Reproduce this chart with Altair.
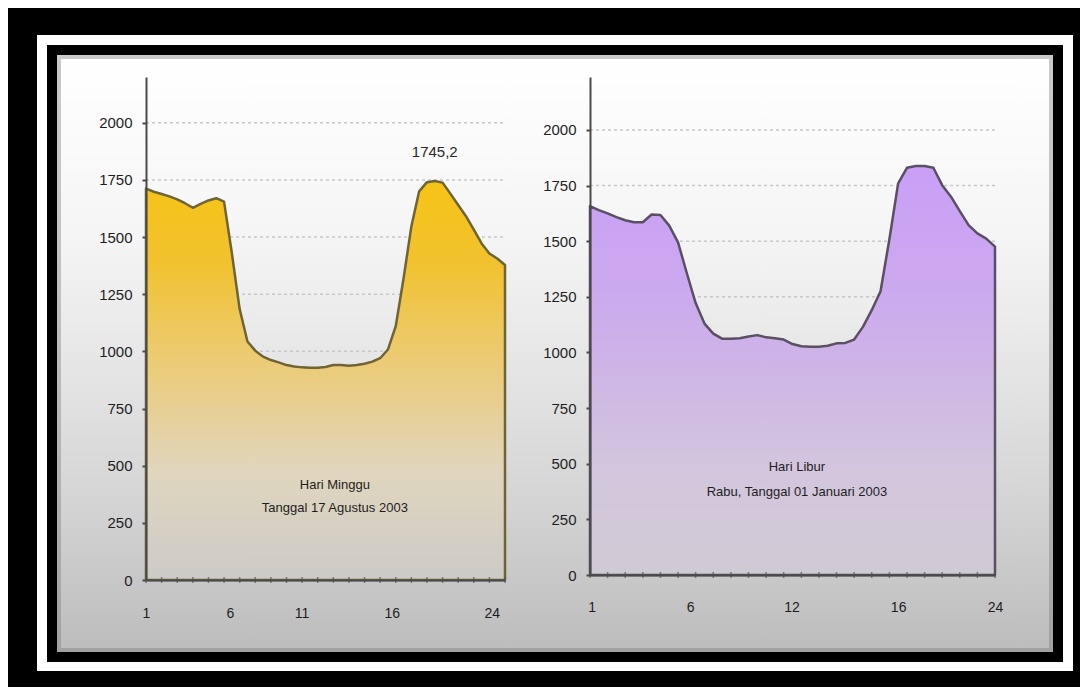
import json
import altair as alt
import pandas as pd

# ---------------- data ----------------
HOURS = [1, 1.5, 2, 2.5, 3, 3.5, 4, 4.5, 5, 5.5, 6, 6.5, 7, 7.5, 8, 8.5, 9, 9.5,
         10, 10.5, 11, 11.5, 12, 12.5, 13, 13.5, 14, 14.5, 15, 15.5, 16, 16.5,
         17, 17.5, 18, 18.5, 19, 19.5, 20, 20.5, 21, 21.5, 22, 22.5, 23, 23.5, 24]

# Hari Minggu, 17 Agustus 2003 (MW)
LOAD_MINGGU = [1712, 1698, 1688, 1678, 1665, 1648, 1628, 1645, 1660, 1670, 1655,
               1430, 1185, 1043, 1003, 977, 962, 952, 940, 934, 930, 928, 928,
               932, 940, 940, 937, 940, 946, 955, 970, 1008, 1110, 1319, 1546,
               1700, 1740, 1745.2, 1738, 1690, 1640, 1591, 1532, 1472, 1428,
               1406, 1378]

# Hari Libur, Rabu 01 Januari 2003 (MW)
LOAD_LIBUR = [1658, 1640, 1625, 1608, 1594, 1585, 1585, 1620, 1618, 1570, 1495,
              1356, 1222, 1130, 1085, 1062, 1062, 1064, 1072, 1078, 1068, 1064,
              1058, 1038, 1028, 1026, 1026, 1030, 1041, 1043, 1058, 1115, 1190,
              1275, 1508, 1760, 1830, 1838, 1838, 1830, 1752, 1700, 1635, 1572,
              1535, 1512, 1476]

HOUR_TICKS = [1, 2, 3, 4, 5, 6, 7, 8, 9, 10, 11, 12, 13, 14, 15, 16, 17, 18,
              19, 20, 21, 22, 23, 24]
Y_TICKS = [0, 250, 500, 750, 1000, 1250, 1500, 1750, 2000]
GRID_VALUES = [250, 500, 750, 1000, 1250, 1500, 1750, 2000]

X_LABEL_POS_MINGGU = [1, 6.38, 10.97, 16.74, 23.15]
X_LABEL_TXT_MINGGU = ["1", "6", "11", "16", "24"]
X_LABEL_POS_LIBUR = [1.1, 6.68, 12.45, 18.5, 24]
X_LABEL_TXT_LIBUR = ["1", "6", "12", "16", "24"]

NOTE_MINGGU = ["Hari Minggu", "Tanggal 17 Agustus 2003"]
NOTE_MINGGU_HOUR = [13.1, 13.1]
NOTE_MINGGU_VAL = [416, 315]
NOTE_LIBUR = ["Hari Libur", "Rabu, Tanggal 01 Januari 2003"]
NOTE_LIBUR_HOUR = [12.75, 12.75]
NOTE_LIBUR_VAL = [485, 373]

PEAK_LABEL = "1745,2"
PEAK_HOUR = 19.5
PEAK_VALUE = 1745.2

FONT = "Liberation Sans Narrow, Liberation Sans, Arial, sans-serif"
TEXT_COLOR = "#1e1e1e"
AXIS_COLOR = "#4a4a4a"


def grad(stops):
    return alt.Gradient(
        gradient="linear",
        stops=[alt.GradientStop(color=c, offset=o) for o, c in stops],
        x1=0, x2=0, y1=0, y2=1,
    )


def label_expr(pos, txt):
    return "%s[indexof(%s, datum.value)]" % (json.dumps(txt), json.dumps(pos))


def deco_rect(x0, y0, x1, y1, **kw):
    return alt.Chart(pd.DataFrame({"k": [0]})).mark_rect(**kw).encode(
        x=alt.value(x0), x2=alt.value(x1), y=alt.value(y0), y2=alt.value(y1)
    )


def panel(load, ymax, fill_stops, stroke, xpos, xtxt,
          note_txt, note_h, note_v, label_pad):
    xscale = alt.Scale(domain=[1, 24], nice=False, zero=False)
    yscale = alt.Scale(domain=[0, ymax], nice=False)
    xaxis = alt.Axis(values=xpos, labelExpr=label_expr(xpos, xtxt),
                     ticks=False, grid=False, domainColor=AXIS_COLOR,
                     domainWidth=2, labelFlush=False,
                     labelPadding=label_pad, labelFont=FONT,
                     labelFontSize=14, labelColor=TEXT_COLOR,
                     labelAngle=0, zindex=1)
    yaxis = alt.Axis(values=Y_TICKS, format="d", grid=False, domainColor=AXIS_COLOR,
                     domainWidth=2, tickColor=AXIS_COLOR, tickSize=4,
                     tickWidth=2, labelPadding=10, labelFont=FONT,
                     labelFontSize=15, labelColor=TEXT_COLOR, zindex=1)

    df = pd.DataFrame({"hour": HOURS, "load": load})

    area = alt.Chart(df).mark_area(
        fill=grad(fill_stops), stroke=stroke, strokeWidth=2.5,
        strokeJoin="round", interpolate="linear"
    ).encode(
        x=alt.X("hour:Q", scale=xscale, title=None, axis=xaxis),
        y=alt.Y("load:Q", scale=yscale, title=None, axis=yaxis),
    )

    grid = alt.Chart(pd.DataFrame({"v": GRID_VALUES})).mark_rule(
        color="#c8c8c8", strokeWidth=1.5, strokeDash=[3, 3]
    ).encode(
        y=alt.Y("v:Q", scale=yscale, title=None, axis=yaxis),
        x=alt.datum(1, scale=xscale, axis=xaxis),
        x2=alt.datum(24),
    )

    ticks = alt.Chart(pd.DataFrame({"h": HOUR_TICKS})).mark_tick(
        orient="vertical", size=6, thickness=1.5, color="#555555"
    ).encode(x=alt.X("h:Q", scale=xscale, title=None, axis=xaxis),
             y=alt.datum(0, scale=yscale, axis=yaxis))

    notes = alt.Chart(pd.DataFrame({"h": note_h, "v": note_v, "t": note_txt})).mark_text(
        font=FONT, fontSize=13, color=TEXT_COLOR, align="center", baseline="middle"
    ).encode(x=alt.X("h:Q", scale=xscale, title=None, axis=xaxis),
             y=alt.Y("v:Q", scale=yscale, title=None, axis=yaxis),
             text="t:N")

    return grid, area, ticks, notes


# ---------------- left panel (with slide frame) ----------------
WL, HL = 359, 503
WR, HR = 405, 498

g1, a1, t1, n1 = panel(
    LOAD_MINGGU, 2200,
    [(0, "#f6c416"), (0.2, "#f1c22e"), (0.48, "#ebcc7d"), (0.73, "#e0d6be"), (1, "#cdcbc8")],
    "#6e6436", X_LABEL_POS_MINGGU, X_LABEL_TXT_MINGGU,
    NOTE_MINGGU, NOTE_MINGGU_HOUR, NOTE_MINGGU_VAL, 26,
)

peak = alt.Chart(pd.DataFrame({"h": [PEAK_HOUR], "v": [PEAK_VALUE], "t": [PEAK_LABEL]})).mark_text(
    font=FONT, fontSize=15, color="#2a2a2a", dy=-29, align="center"
).encode(x=alt.X("h:Q", title=None), y=alt.Y("v:Q", title=None), text="t:N")

frame = [
    deco_rect(-138, -69, 934, 610, color="#000000"),
    deco_rect(-109, -42, 927, 594, color="#ffffff"),
    deco_rect(-99, -32, 917, 585, color="#000000"),
    deco_rect(-89, -22, 907, 575, fill=grad([(0, "#ffffff"), (0.3, "#f5f5f5"),
                                             (0.5, "#e7e7e7"), (0.75, "#d4d4d4"),
                                             (1, "#bcbcbc")])),
    deco_rect(-87, -20, 905, 573, filled=False, stroke="#7a7a7a",
              strokeWidth=4, strokeOpacity=0.4),
]

left = alt.layer(*frame, g1, a1, t1, n1, peak).properties(width=WL, height=HL)

# ---------------- right panel ----------------
g2, a2, t2, n2 = panel(
    LOAD_LIBUR, 2238,
    [(0, "#c99ff7"), (0.3, "#cba9ee"), (0.5, "#ceb5e6"), (0.75, "#d3c6dd"), (1, "#cfcad4")],
    "#5a4f63", X_LABEL_POS_LIBUR, X_LABEL_TXT_LIBUR,
    NOTE_LIBUR, NOTE_LIBUR_HOUR, NOTE_LIBUR_VAL, 25,
)
right = alt.layer(g2, a2, t2, n2).properties(width=WR, height=HR)

chart = alt.hconcat(left, right, spacing=85, bounds="flush").properties(
    padding=0, background="#000000"
).configure_view(stroke=None)

chart.save("out.html", embed_options={"renderer": "svg", "actions": False})
